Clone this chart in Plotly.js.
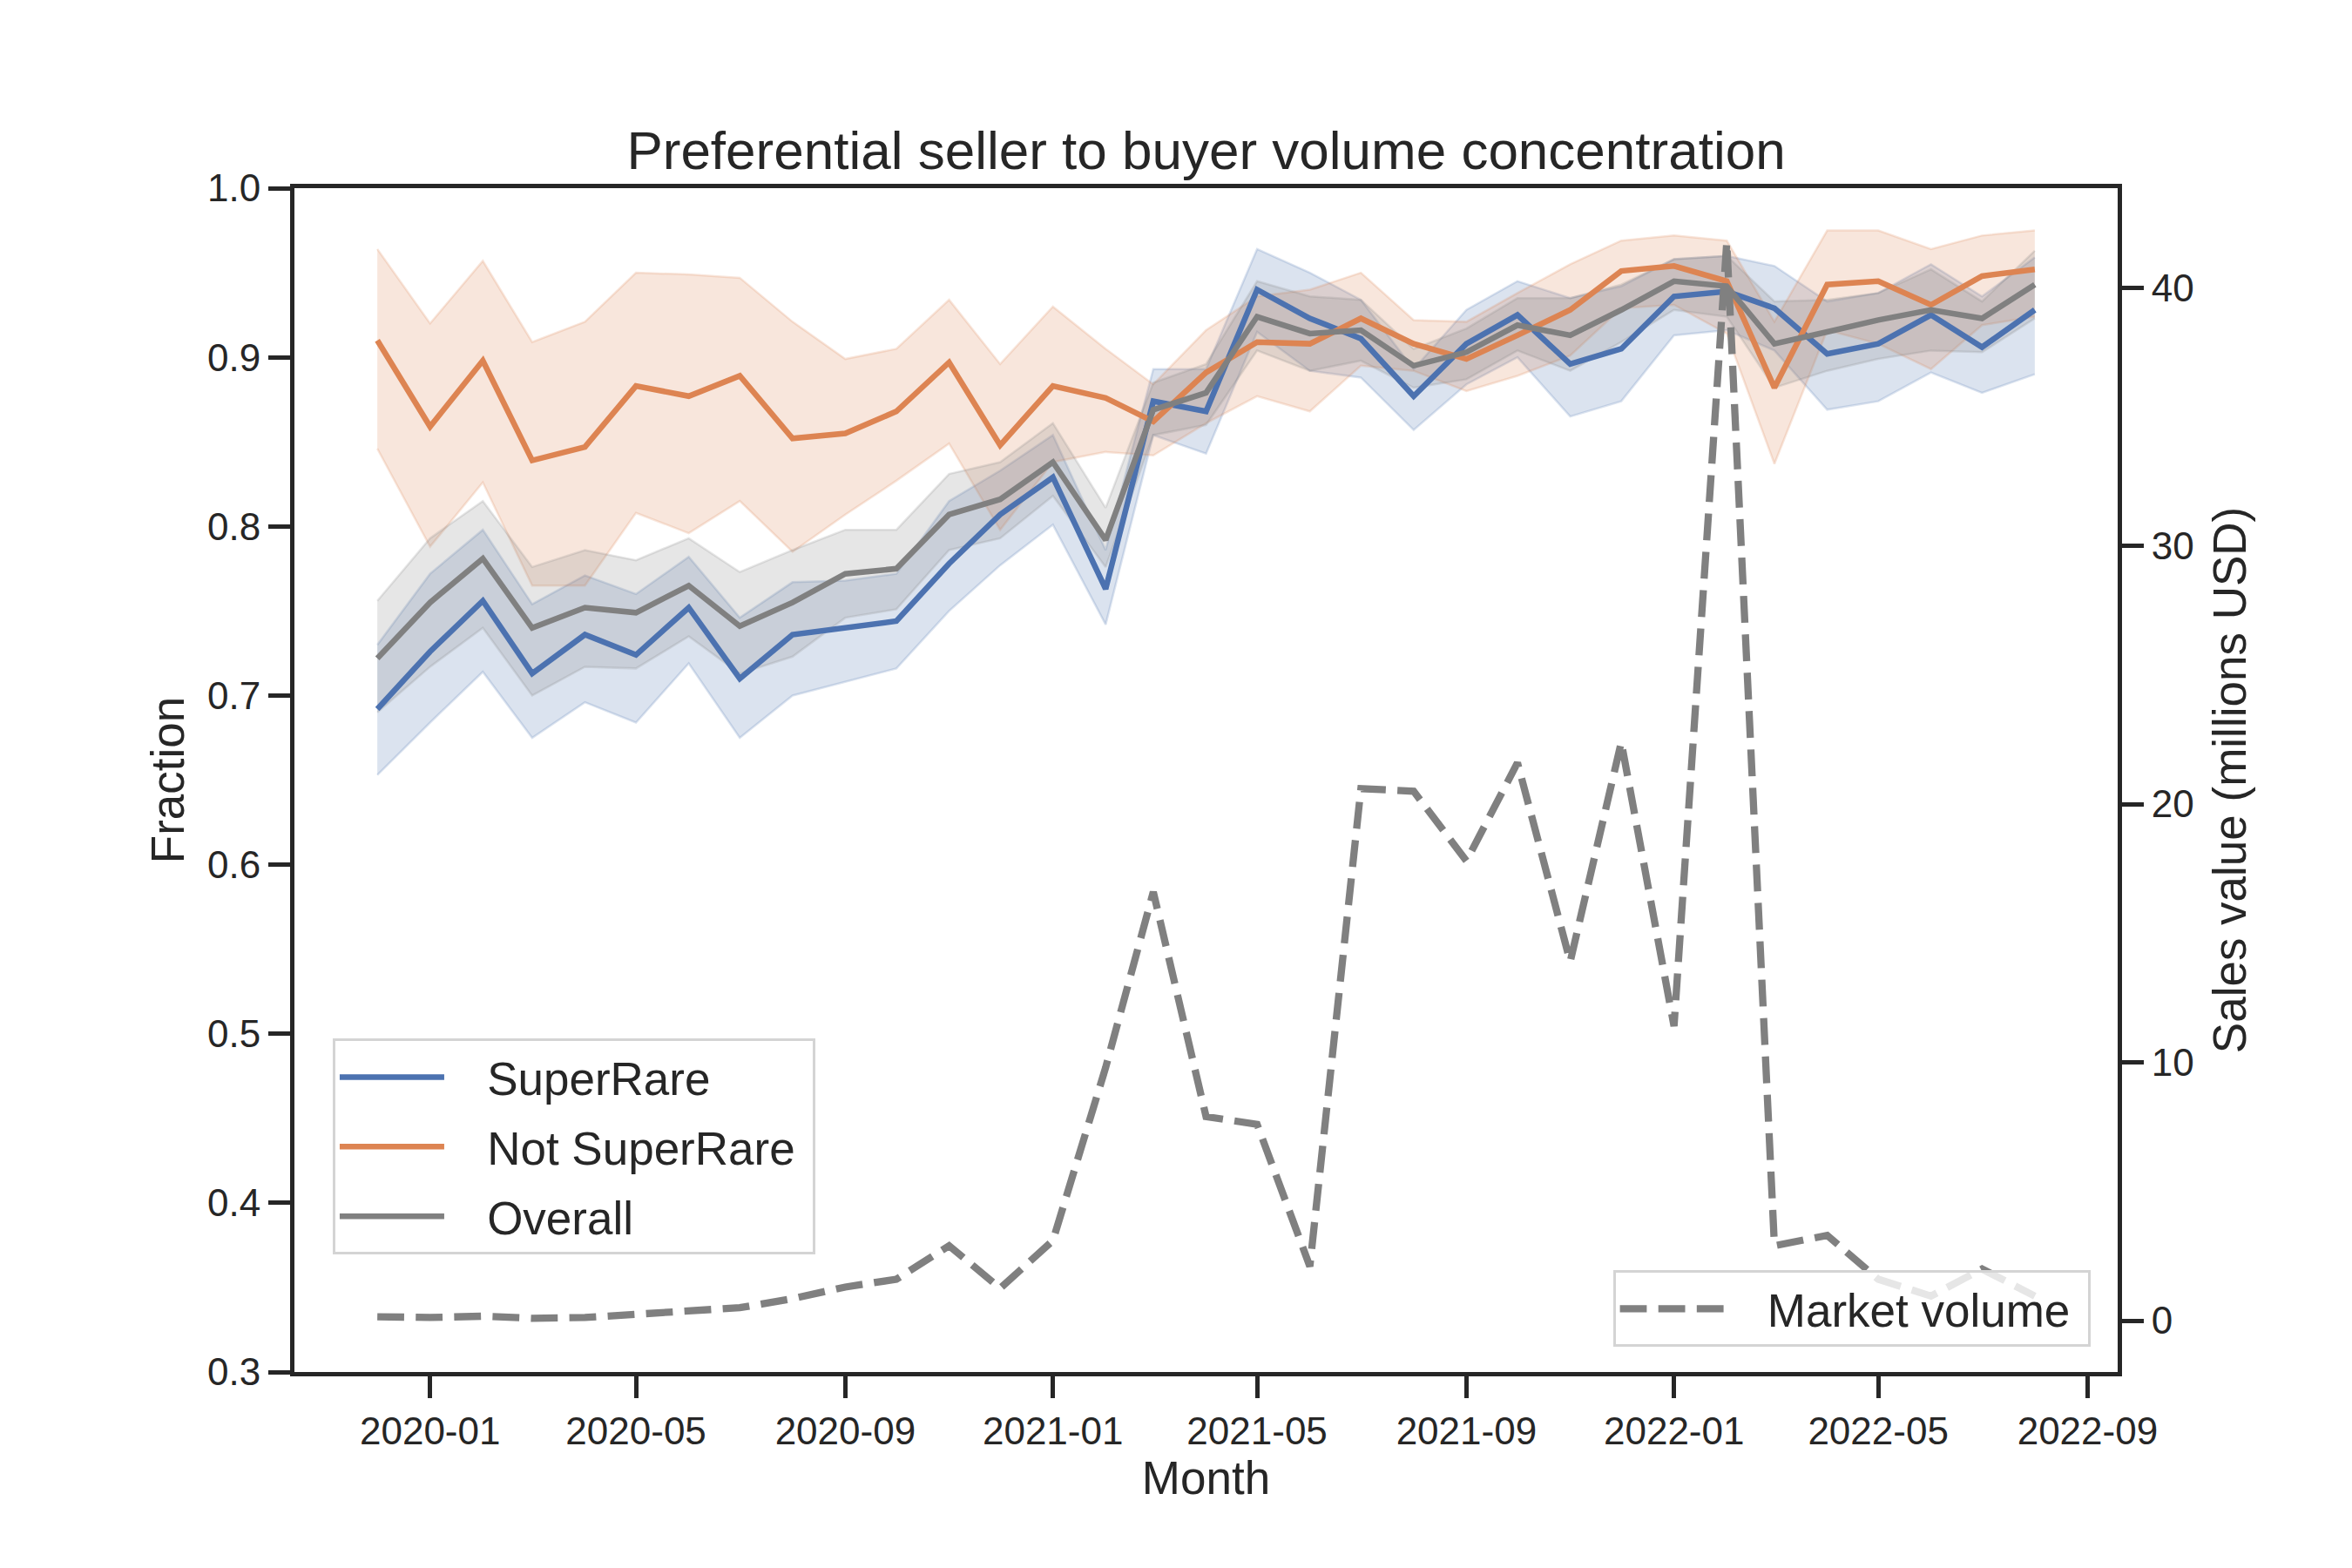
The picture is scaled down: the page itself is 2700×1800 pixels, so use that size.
<!DOCTYPE html>
<html>
<head>
<meta charset="utf-8">
<script src="https://cdn.plot.ly/plotly-3.0.1.min.js"></script>
<style>
  html, body { margin: 0; padding: 0; background: white; }
  #chart { width: 2700px; height: 1800px; }
</style>
</head>
<body>
<div id="chart"></div>
<script>
const months = [
  "2019-12-01", "2020-01-01", "2020-02-01", "2020-03-01", "2020-04-01", "2020-05-01",
  "2020-06-01", "2020-07-01", "2020-08-01", "2020-09-01", "2020-10-01", "2020-11-01",
  "2020-12-01", "2021-01-01", "2021-02-01", "2021-03-01", "2021-04-01", "2021-05-01",
  "2021-06-01", "2021-07-01", "2021-08-01", "2021-09-01", "2021-10-01", "2021-11-01",
  "2021-12-01", "2022-01-01", "2022-02-01", "2022-03-01", "2022-04-01", "2022-05-01",
  "2022-06-01", "2022-07-01", "2022-08-01",
];

const tickMonths = [
  "2020-01-01", "2020-05-01", "2020-09-01", "2021-01-01", "2021-05-01",
  "2021-09-01", "2022-01-01", "2022-05-01", "2022-09-01",
];

// fraction of volume, mean and confidence band per group
const superRare = [
  0.692, 0.726, 0.756, 0.713, 0.736, 0.724, 0.752, 0.710, 0.736, 0.740, 0.744,
  0.778, 0.807, 0.829, 0.763, 0.874, 0.868, 0.940, 0.923, 0.911, 0.877, 0.908,
  0.925, 0.896, 0.905, 0.936, 0.939, 0.929, 0.902, 0.908, 0.925, 0.906, 0.928,
];
const superRareHi = [
  0.730, 0.772, 0.798, 0.754, 0.771, 0.760, 0.782, 0.746, 0.767, 0.768, 0.772,
  0.815, 0.833, 0.854, 0.786, 0.893, 0.893, 0.964, 0.950, 0.934, 0.893, 0.928,
  0.945, 0.935, 0.942, 0.958, 0.960, 0.954, 0.933, 0.938, 0.955, 0.936, 0.959,
];
const superRareLo = [
  0.653, 0.684, 0.714, 0.675, 0.696, 0.684, 0.719, 0.675, 0.700, 0.708, 0.716,
  0.750, 0.777, 0.801, 0.742, 0.854, 0.843, 0.915, 0.892, 0.888, 0.857, 0.884,
  0.900, 0.865, 0.874, 0.913, 0.916, 0.904, 0.869, 0.874, 0.891, 0.879, 0.890,
];

const notSuperRare = [
  0.910, 0.859, 0.898, 0.839, 0.847, 0.883, 0.877, 0.889, 0.852, 0.855, 0.868,
  0.897, 0.848, 0.883, 0.876, 0.862, 0.891, 0.909, 0.908, 0.923, 0.908, 0.899,
  0.913, 0.928, 0.951, 0.954, 0.945, 0.882, 0.943, 0.945, 0.931, 0.948, 0.952,
];
const notSuperRareHi = [
  0.964, 0.920, 0.957, 0.909, 0.921, 0.950, 0.949, 0.947, 0.921, 0.899, 0.905,
  0.934, 0.896, 0.930, 0.905, 0.884, 0.916, 0.936, 0.940, 0.950, 0.922, 0.921,
  0.938, 0.955, 0.969, 0.972, 0.969, 0.921, 0.975, 0.975, 0.964, 0.972, 0.975,
];
const notSuperRareLo = [
  0.846, 0.788, 0.826, 0.765, 0.765, 0.808, 0.796, 0.815, 0.785, 0.807, 0.827,
  0.849, 0.798, 0.838, 0.844, 0.842, 0.861, 0.877, 0.868, 0.895, 0.892, 0.880,
  0.889, 0.901, 0.929, 0.931, 0.914, 0.837, 0.916, 0.908, 0.893, 0.919, 0.924,
];

const overall = [
  0.722, 0.755, 0.781, 0.740, 0.752, 0.749, 0.765, 0.741, 0.755, 0.772, 0.775,
  0.807, 0.816, 0.838, 0.792, 0.869, 0.879, 0.924, 0.914, 0.916, 0.895, 0.903,
  0.919, 0.913, 0.928, 0.945, 0.942, 0.908, 0.915, 0.922, 0.928, 0.923, 0.943,
];
const overallHi = [
  0.756, 0.793, 0.815, 0.776, 0.786, 0.780, 0.793, 0.773, 0.786, 0.798, 0.798,
  0.831, 0.838, 0.861, 0.811, 0.885, 0.896, 0.945, 0.936, 0.934, 0.905, 0.917,
  0.935, 0.935, 0.943, 0.958, 0.960, 0.933, 0.934, 0.938, 0.952, 0.933, 0.963,
];
const overallLo = [
  0.690, 0.717, 0.740, 0.700, 0.717, 0.716, 0.735, 0.713, 0.723, 0.746, 0.751,
  0.786, 0.793, 0.818, 0.776, 0.854, 0.860, 0.904, 0.892, 0.898, 0.882, 0.887,
  0.904, 0.892, 0.909, 0.928, 0.924, 0.882, 0.892, 0.899, 0.904, 0.903, 0.923,
];

// monthly sales value, millions USD
const marketVolume = [
  0.15, 0.12, 0.17, 0.09, 0.12, 0.23, 0.32, 0.5, 0.85, 1.3, 1.6,
  2.9, 1.25, 3.1, 9.8, 16.6, 7.9, 7.6, 2.1, 20.6, 20.5, 17.8,
  21.6, 13.9, 22.4, 11.4, 41.76, 2.9, 3.3, 1.6, 0.95, 2.0, 0.95,
];

const INK = "#262626";
const FONT = "Liberation Sans, Arial, sans-serif";
// gap between legend sample and label (plotly has no option for it)
const PAD = "\u00a0\u00a0\u00a0";

const groups = [
  { name: "SuperRare", rgb: "76,114,176", mid: superRare, hi: superRareHi, lo: superRareLo },
  { name: "Not SuperRare", rgb: "221,132,82", mid: notSuperRare, hi: notSuperRareHi, lo: notSuperRareLo },
  { name: "Overall", rgb: "128,128,128", mid: overall, hi: overallHi, lo: overallLo },
];

const bands = groups.flatMap((g) => [
  {
    x: months, y: g.hi, type: "scatter", mode: "lines", hoverinfo: "skip", showlegend: false,
    line: { color: `rgba(${g.rgb},0.2)`, width: 2.5 },
  },
  {
    x: months, y: g.lo, type: "scatter", mode: "lines", hoverinfo: "skip", showlegend: false,
    fill: "tonexty", fillcolor: `rgba(${g.rgb},0.2)`,
    line: { color: `rgba(${g.rgb},0.2)`, width: 2.5 },
  },
]);

const lines = groups.map((g) => ({
  x: months, y: g.mid, type: "scatter", mode: "lines",
  name: PAD + g.name + "\u00a0", legend: "legend", legendgroup: g.name,
  line: { color: `rgb(${g.rgb})`, width: 6.5 },
}));

const volume = {
  x: months, y: marketVolume, type: "scatter", mode: "lines",
  name: PAD + "Market volume\u00a0", yaxis: "y2", legend: "legend2",
  line: { color: "#808080", width: 8.3, dash: "30.8px,13.3px" },
};

const axisCommon = {
  showline: true, linewidth: 5, linecolor: INK,
  ticks: "outside", ticklen: 25, tickwidth: 5, tickcolor: INK,
  tickfont: { size: 44, color: INK },
  showgrid: false, zeroline: false,
};

const legendCommon = {
  bgcolor: "rgba(255,255,255,0.8)", bordercolor: "#d4d4d4", borderwidth: 3,
  font: { size: 53, color: INK }, itemwidth: 120,
};

Plotly.newPlot(
  "chart",
  [...bands, ...lines, volume],
  {
    width: 2700,
    height: 1800,
    font: { family: FONT, color: INK },
    paper_bgcolor: "white",
    plot_bgcolor: "white",
    margin: { l: 338, r: 269, t: 216, b: 225, pad: 0 },
    title: {
      text: "Preferential seller to buyer volume concentration",
      font: { size: 62, color: INK },
      x: 0.5, xref: "paper", xanchor: "center",
      y: 1 - 172 / 1800, yref: "container", yanchor: "middle",
    },
    xaxis: {
      ...axisCommon,
      type: "date",
      range: ["2019-10-13 07:00", "2022-09-18 17:00"],
      tickvals: tickMonths,
      tickformat: "%Y-%m",
      mirror: true,
      title: { text: "Month", font: { size: 53, color: INK }, standoff: 2 },
    },
    yaxis: {
      ...axisCommon,
      range: [0.3, 1.0],
      dtick: 0.1,
      tickformat: ".1f",
      title: { text: "Fraction", font: { size: 53, color: INK }, standoff: 11 },
    },
    yaxis2: {
      ...axisCommon,
      overlaying: "y",
      side: "right",
      range: [-1.99, 43.85],
      tickvals: [0, 10, 20, 30, 40],
      title: { text: "Sales value (millions USD)", font: { size: 53, color: INK }, standoff: 25 },
    },
    legend: {
      ...legendCommon,
      traceorder: "grouped",
      tracegroupgap: 8,
      x: 0.021, y: 0.099, xanchor: "left", yanchor: "bottom",
    },
    legend2: {
      ...legendCommon,
      traceorder: "normal",
      x: 0.985, y: 0.021, xanchor: "right", yanchor: "bottom",
    },
    showlegend: true,
  },
  { displayModeBar: false, staticPlot: true }
);
</script>
</body>
</html>
